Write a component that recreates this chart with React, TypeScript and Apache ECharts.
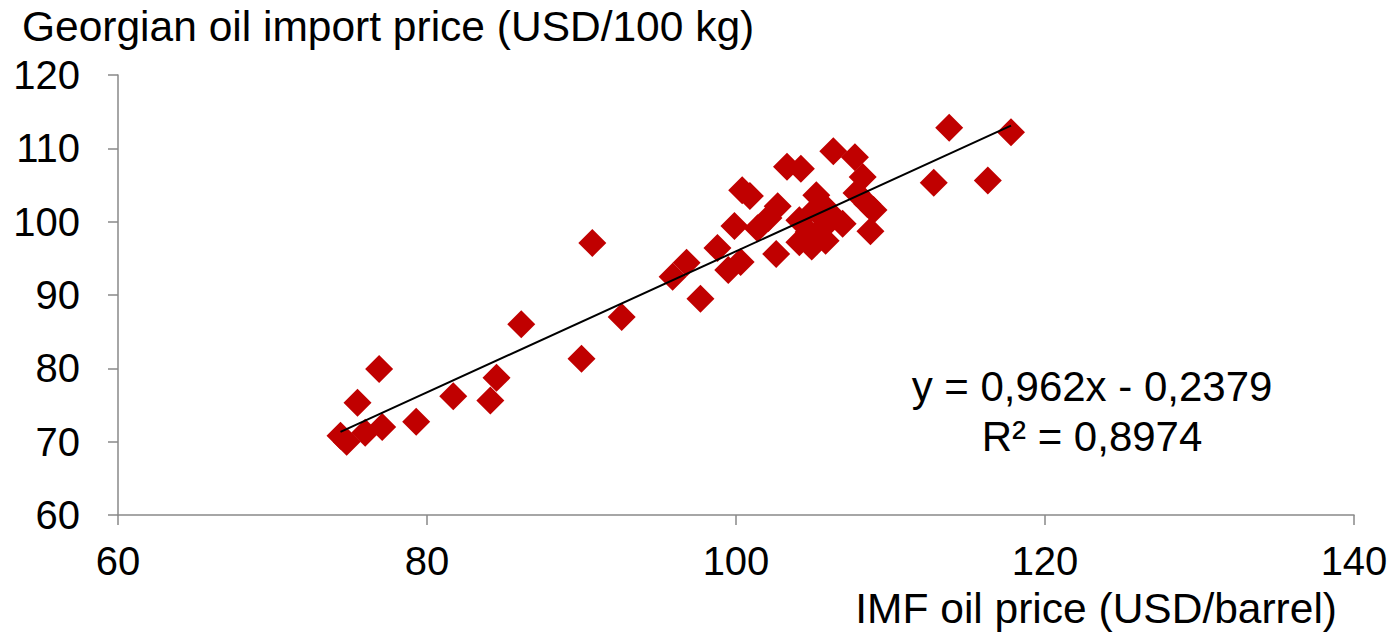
import React, { useEffect, useRef } from "react";
import * as echarts from "echarts";

const imfPrice: number[] = [
  74.4, 74.8, 75.5, 76.0, 77.1, 76.9, 79.3, 81.7, 84.1, 84.5, 86.1, 90.0, 90.7,
  92.6, 95.9, 96.8, 97.7, 98.8, 99.5, 99.9, 100.3, 100.4, 100.9, 101.4, 102.1,
  102.7, 102.6, 103.3, 104.2, 104.1, 104.9, 105.1, 105.2, 105.6, 105.8, 106.3,
  106.9, 107.7, 107.8, 108.2, 108.5, 108.7, 108.9, 112.8, 113.8, 116.3, 117.8,
  104.7, 106.1, 104.1, 105.6,
];
const georgianPrice: number[] = [
  70.8, 70.0, 75.3, 71.2, 72.0, 79.9, 72.7, 76.2, 75.6, 78.7, 86.0, 81.3, 97.1,
  87.0, 92.5, 94.4, 89.5, 96.4, 93.4, 99.4, 94.5, 104.3, 103.5, 99.1, 100.5,
  102.1, 95.6, 107.5, 107.2, 97.2, 96.6, 101.6, 103.6, 99.1, 97.4, 109.6, 99.7,
  108.8, 103.9, 106.1, 102.4, 98.7, 101.6, 105.3, 112.8, 105.6, 112.2, 98.6,
  101.1, 100.2, 102.3,
];
const slope = 0.962;
const intercept = -0.2379;
const rSquared = "0,8974";
const equationText = "y = 0,962x - 0,2379";
const xTicks = { min: 60, max: 140, interval: 20 };
const yTicks = { min: 60, max: 120, interval: 10 };
const yTitle = "Georgian oil import price (USD/100 kg)";
const xTitle = "IMF oil price (USD/barrel)";

export default function App() {
  const ref = useRef<HTMLDivElement>(null);
  useEffect(() => {
    if (!ref.current) return;
    const chart = echarts.init(ref.current, null, { renderer: "svg" });
    const points = imfPrice.map((x, i) => [x, georgianPrice[i]]);
    const xMin = Math.min(...imfPrice);
    const xMax = Math.max(...imfPrice);
    const trend = [
      [xMin, slope * xMin + intercept],
      [xMax, slope * xMax + intercept],
    ];
    const font = "Liberation Sans, Arial, sans-serif";
    chart.setOption({
      animation: false,
      backgroundColor: "#ffffff",
      grid: { left: 118, right: 43, top: 75, bottom: 118, containLabel: false },
      xAxis: {
        type: "value",
        min: xTicks.min,
        max: xTicks.max,
        interval: xTicks.interval,
        splitLine: { show: false },
        axisLine: { show: true, lineStyle: { color: "#898989", width: 1.5 } },
        axisTick: { show: true, inside: false, length: 10, lineStyle: { color: "#898989", width: 1.5 } },
        axisLabel: { color: "#000", fontSize: 40, fontFamily: font, margin: 26 },
      },
      yAxis: {
        type: "value",
        min: yTicks.min,
        max: yTicks.max,
        interval: yTicks.interval,
        splitLine: { show: false },
        axisLine: { show: true, lineStyle: { color: "#898989", width: 1.5 } },
        axisTick: { show: true, inside: false, length: 10, lineStyle: { color: "#898989", width: 1.5 } },
        axisLabel: { color: "#000", fontSize: 40, fontFamily: font, margin: 38 },
      },
      graphic: [
        {
          type: "text",
          left: 22,
          top: 5,
          style: { text: yTitle, fill: "#000", font: `42.5px ${font}` },
        },
        {
          type: "text",
          right: 60,
          top: 587,
          style: { text: xTitle, fill: "#000", font: `42.5px ${font}` },
        },
        {
          type: "text",
          x: 1092,
          y: 386,
          style: {
            text: equationText,
            fill: "#000",
            font: `42px ${font}`,
            align: "center",
            verticalAlign: "middle",
          },
        },
        {
          type: "text",
          x: 1092,
          y: 436,
          style: {
            text: "R² = " + rSquared,
            fill: "#000",
            font: `42px ${font}`,
            align: "center",
            verticalAlign: "middle",
          },
        },
      ],
      series: [
        {
          type: "scatter",
          data: points,
          symbol: "diamond",
          symbolSize: 28,
          itemStyle: { color: "#C00000", opacity: 1 },
          z: 2,
        },
        {
          type: "line",
          data: trend,
          symbol: "none",
          lineStyle: { color: "#000", width: 2 },
          z: 3,
        },
      ],
    });
    return () => chart.dispose();
  }, []);
  return (
    <div
      ref={ref}
      style={{ position: "fixed", left: 0, top: 0, width: 1397, height: 633 }}
    />
  );
}
